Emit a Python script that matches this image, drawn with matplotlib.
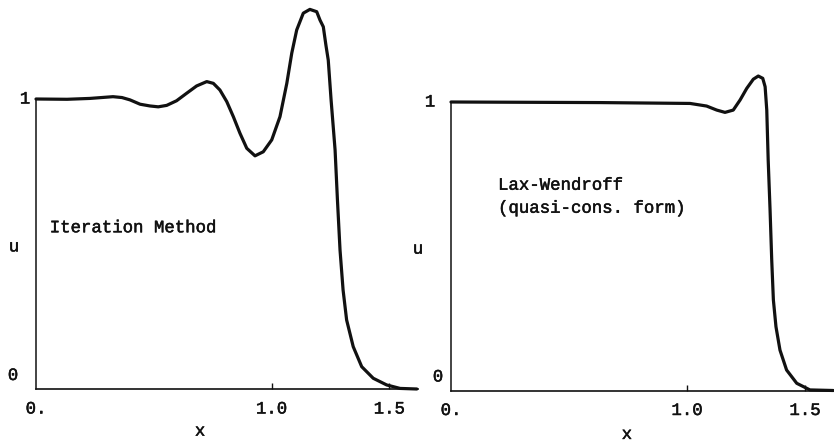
import matplotlib
matplotlib.use("Agg")
import matplotlib.pyplot as plt
from matplotlib.transforms import offset_copy
import matplotlib.patheffects as pe

# ---- data ----
x_iter = [0.0, 0.132, 0.229, 0.327, 0.365, 0.399, 0.442, 0.484, 0.519, 0.555, 0.597,
          0.640, 0.682, 0.725, 0.753, 0.781, 0.810, 0.838, 0.866, 0.895, 0.930, 0.965,
          1.001, 1.036, 1.065, 1.086, 1.107, 1.135, 1.163, 1.192, 1.206, 1.220, 1.231,
          1.241, 1.253, 1.270, 1.280, 1.291, 1.304, 1.319, 1.347, 1.383, 1.432, 1.489,
          1.546, 1.617]
u_iter = [1.0, 0.999, 1.002, 1.008, 1.005, 0.997, 0.982, 0.976, 0.973, 0.978, 0.994,
          1.020, 1.045, 1.060, 1.054, 1.031, 0.991, 0.939, 0.882, 0.830, 0.804, 0.818,
          0.859, 0.939, 1.054, 1.158, 1.238, 1.296, 1.309, 1.301, 1.272, 1.249, 1.186,
          1.134, 0.997, 0.824, 0.652, 0.479, 0.341, 0.238, 0.146, 0.077, 0.037, 0.014,
          0.002, 0.0]

x_lw = [0.0, 0.631, 1.013, 1.083, 1.126, 1.161, 1.196, 1.225, 1.253, 1.281, 1.302,
        1.321, 1.331, 1.338, 1.344, 1.352, 1.359, 1.366, 1.377, 1.394, 1.422, 1.465,
        1.521, 1.620]
u_lw = [1.0, 0.998, 0.995, 0.986, 0.972, 0.964, 0.972, 1.007, 1.047, 1.079, 1.090,
        1.082, 1.053, 0.972, 0.799, 0.625, 0.452, 0.314, 0.221, 0.140, 0.071, 0.025,
        0.002, 0.0]

xticks = [0.0, 1.0, 1.5]
xtick_labels = ["0.", "1.0", "1.5"]

W, H = 834, 441
fig = plt.figure(figsize=(W / 100, H / 100), dpi=100)
FONT = "Liberation Mono"
FS = 12.5
INK = "#111111"
thick = [pe.withStroke(linewidth=0.35, foreground=INK)]

panels = [
    dict(left=36, base=389, unit_x=235.5, unit_y=290, x=x_iter, u=u_iter,
         texts=[("Iteration Method", 0.036, 0.418)],
         one_dx=-11, zero_dx=-23, u_px=14, xlab=(0.43, -0.09)),
    dict(left=451, base=390.5, unit_x=236, unit_y=288.5, x=x_lw, u=u_lw,
         texts=[("Lax-Wendroff", 0.123, 0.535), ("(quasi-cons. form)", 0.123, 0.475)],
         one_dx=-21, zero_dx=-13, u_px=418, xlab=(0.46, -0.095)),
]

XMAX = 1.62
YMAX = 1.33

for p in panels:
    w = XMAX * p["unit_x"]
    h = YMAX * p["unit_y"]
    ax = fig.add_axes([p["left"] / W, (H - p["base"]) / H, w / W, h / H])
    ax.set_xlim(0, XMAX)
    ax.set_ylim(0, YMAX)
    ax.plot(p["x"], p["u"], color=INK, lw=2.3, clip_on=False, solid_capstyle="round",
            solid_joinstyle="round")
    for s in ("top", "right"):
        ax.spines[s].set_visible(False)
    ax.spines["left"].set_bounds(0, 1)
    ax.spines["left"].set_linewidth(1.1)
    ax.spines["bottom"].set_linewidth(1.2)
    ax.spines["left"].set_color(INK)
    ax.spines["bottom"].set_color(INK)
    ax.set_yticks([])
    ax.set_xticks(xticks)
    ax.set_xticklabels(xtick_labels, fontfamily=FONT, fontsize=FS, path_effects=thick)
    ax.tick_params(axis="x", direction="in", length=4, width=1, pad=9, colors=INK)
    ax.xaxis.get_major_ticks()[0].tick1line.set_visible(False)
    ax.set_xlabel("x", fontfamily=FONT, fontsize=FS, color=INK, path_effects=thick)
    ax.xaxis.set_label_coords(*p["xlab"])

    tr = ax.get_yaxis_transform()
    ax.text(0, 1, "1", transform=offset_copy(tr, fig=fig, x=p["one_dx"], y=0, units="dots"),
            ha="center", va="center", fontfamily=FONT, fontsize=FS, color=INK,
            path_effects=thick)
    ax.text(0, 0, "0", transform=offset_copy(tr, fig=fig, x=p["zero_dx"], y=6, units="dots"),
            ha="center", va="bottom", fontfamily=FONT, fontsize=FS, color=INK,
            path_effects=thick)
    ax.text(0, 0.49, "u", transform=offset_copy(tr, fig=fig, x=p["u_px"] - p["left"],
            y=0, units="dots"),
            ha="center", va="center", fontfamily=FONT, fontsize=FS, color=INK,
            path_effects=thick)
    for t, tx, ty in p["texts"]:
        ax.text(tx, ty, t, transform=ax.transAxes, ha="left", va="center",
                fontfamily=FONT, fontsize=FS, color=INK, path_effects=thick)

fig.savefig("out.png", dpi=100)
